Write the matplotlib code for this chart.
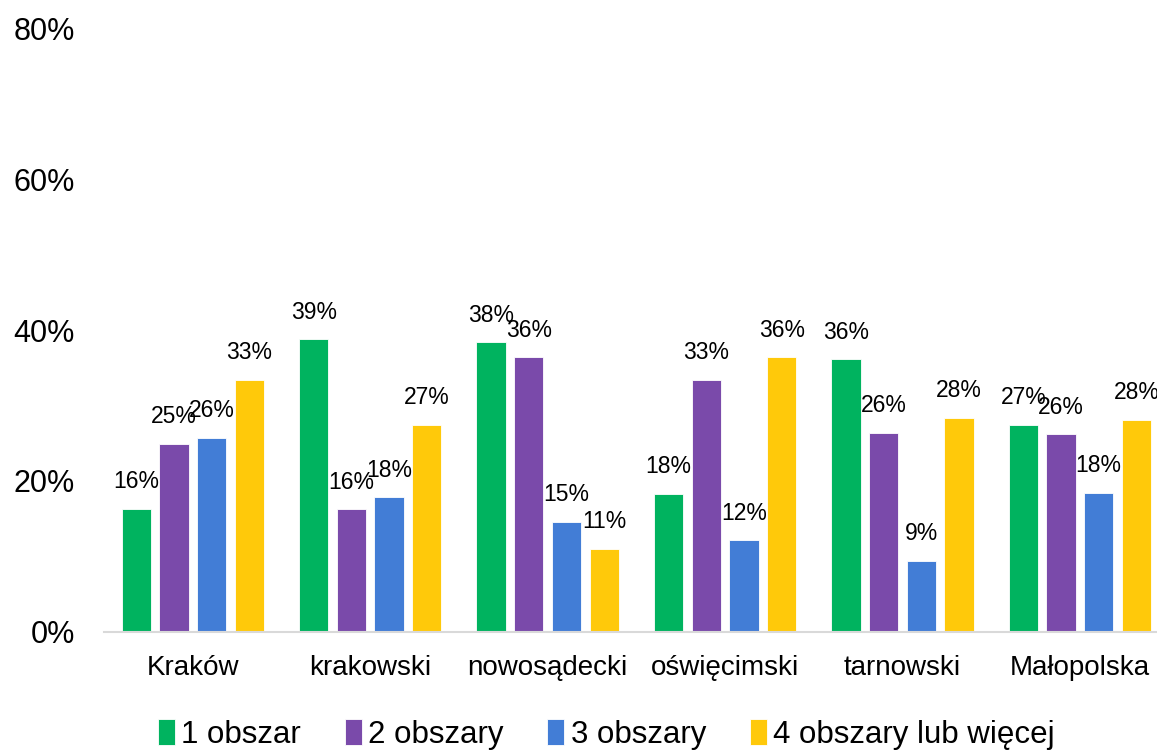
import matplotlib.pyplot as plt
import numpy as np

plt.rcParams['font.family'] = ['Liberation Sans', 'DejaVu Sans']

# dane
categories = ["Kraków", "krakowski", "nowosądecki", "oświęcimski", "tarnowski", "Małopolska"]
series_names = ["1 obszar", "2 obszary", "3 obszary", "4 obszary lub więcej"]
obszar_1 = [16.3, 38.8, 38.4, 18.3, 36.1, 27.4]
obszary_2 = [24.9, 16.2, 36.4, 33.4, 26.4, 26.2]
obszary_3 = [25.7, 17.8, 14.6, 12.1, 9.4, 18.4]
obszary_4 = [33.4, 27.4, 11.0, 36.4, 28.4, 28.1]
colors = ["#00B35F", "#7A4AAA", "#427DD6", "#FFC90A"]

values = [obszar_1, obszary_2, obszary_3, obszary_4]

fig = plt.figure(figsize=(11.57, 7.51), dpi=100)
ax = fig.add_axes([0.090, 0.159, 0.920, 0.803])

x = np.arange(len(categories))
pitch = 0.2125
width = 0.165

bars = []
for i, (vals, col, name) in enumerate(zip(values, colors, series_names)):
    pos = x + (i - 1.5) * pitch
    b = ax.bar(pos, vals, width, color=col, edgecolor="white", linewidth=0.6, label=name)
    bars.append(b)
    for px, v in zip(pos, vals):
        ax.annotate(f"{round(v):.0f}%", (px, v), xytext=(0, 19.5), textcoords="offset points",
                    ha="center", va="center", fontsize=16.5, color="#000000")

ax.set_xlim(-0.5, len(categories) - 0.5)
ax.set_ylim(0, 80)
ax.set_yticks([0, 20, 40, 60, 80])
ax.set_yticklabels(["0%", "20%", "40%", "60%", "80%"])
ax.set_xticks(x)
ax.set_xticklabels(categories)

ax.tick_params(axis="y", length=0, pad=21, labelsize=22)
ax.tick_params(axis="x", length=0, pad=17, labelsize=20)

for s in ["top", "right", "left"]:
    ax.spines[s].set_visible(False)
ax.spines["bottom"].set_color("#d9d9d9")
ax.spines["bottom"].set_linewidth(1.5)

fig.legend(handles=bars, labels=series_names, loc="center", bbox_to_anchor=(0.524, 0.022),
           ncol=4, frameon=False, fontsize=22.5, handlelength=0.55, handleheight=0.9,
           handletextpad=0.2, columnspacing=1.4, borderpad=0.1)

fig.savefig("out.png", dpi=100)
